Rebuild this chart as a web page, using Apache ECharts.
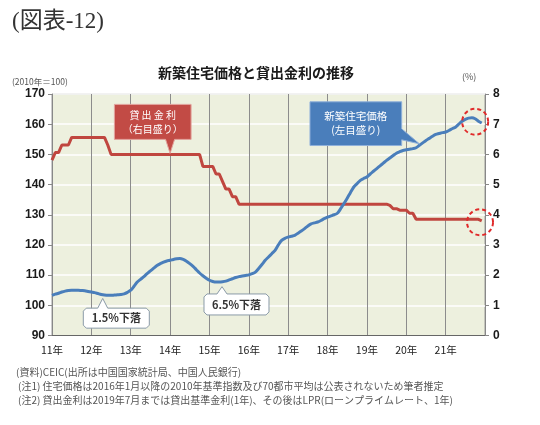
<!DOCTYPE html>
<html><head><meta charset="utf-8">
<script src="https://cdn.jsdelivr.net/npm/echarts@6/dist/echarts.min.js"></script>
<style>html,body{margin:0;padding:0;background:#fff}#c{width:540px;height:425px}</style>
</head><body><div id="c"></div>
<script>
// Year tick labels (one per January)
const yearLabels = ['11年','12年','13年','14年','15年','16年','17年','18年','19年','20年','21年'];
const years = [2011,2012,2013,2014,2015,2016,2017,2018,2019,2020,2021];

// 新築住宅価格 (2010年=100), monthly Jan 2011 - Dec 2021
const housingPrice = [
  103.3,103.7,104.0,104.4,104.7,104.9,105.0,105.0,105.0,104.9,104.8,104.6,
  104.4,104.2,103.9,103.6,103.4,103.3,103.3,103.4,103.5,103.6,103.8,104.3,
  105.0,106.3,107.7,108.6,109.5,110.5,111.4,112.3,113.2,113.8,114.3,114.7,
  114.9,115.2,115.4,115.5,115.2,114.6,113.8,112.9,111.8,110.7,109.8,109.0,
  108.3,107.9,107.7,107.7,107.8,108.0,108.4,108.8,109.2,109.5,109.7,109.9,
  110.1,110.5,111.0,112.2,113.5,114.9,116.0,117.1,118.2,120.0,121.5,122.2,
  122.6,122.9,123.2,123.9,124.6,125.4,126.3,127.0,127.3,127.6,128.1,128.7,
  129.2,129.6,130.0,130.5,132.0,133.7,135.5,137.4,139.2,140.3,141.4,142.0,
  142.5,143.5,144.4,145.3,146.2,147.1,148.0,148.8,149.6,150.4,150.9,151.3,
  151.5,151.7,151.9,152.2,153.0,153.8,154.6,155.3,156.0,156.6,156.9,157.2,
  157.4,157.9,158.5,159.0,160.0,161.0,161.6,162.0,162.1,161.8,161.0,160.4
];

// 貸出金利 (%), monthly Jan 2011 - Dec 2021
const lendingRate = [
  5.81,6.06,6.06,6.31,6.31,6.31,6.56,6.56,6.56,6.56,6.56,6.56,
  6.56,6.56,6.56,6.56,6.56,6.31,6.00,6.00,6.00,6.00,6.00,6.00,
  6.00,6.00,6.00,6.00,6.00,6.00,6.00,6.00,6.00,6.00,6.00,6.00,
  6.00,6.00,6.00,6.00,6.00,6.00,6.00,6.00,6.00,6.00,5.60,5.60,
  5.60,5.60,5.35,5.35,5.10,4.85,4.85,4.60,4.60,4.35,4.35,4.35,
  4.35,4.35,4.35,4.35,4.35,4.35,4.35,4.35,4.35,4.35,4.35,4.35,
  4.35,4.35,4.35,4.35,4.35,4.35,4.35,4.35,4.35,4.35,4.35,4.35,
  4.35,4.35,4.35,4.35,4.35,4.35,4.35,4.35,4.35,4.35,4.35,4.35,
  4.35,4.35,4.35,4.35,4.35,4.35,4.35,4.31,4.20,4.20,4.15,4.15,
  4.15,4.05,4.05,3.85,3.85,3.85,3.85,3.85,3.85,3.85,3.85,3.85,
  3.85,3.85,3.85,3.85,3.85,3.85,3.85,3.85,3.85,3.85,3.85,3.80
];

const notes = [
  '(資料)CEIC(出所は中国国家統計局、中国人民銀行)',
  '(注1) 住宅価格は2016年1月以降の2010年基準指数及び70都市平均は公表されないため筆者推定',
  '(注2) 貸出金利は2019年7月までは貸出基準金利(1年)、その後はLPR(ローンプライムレート、1年)'
];

const FONT = "'Liberation Sans','Noto Sans CJK JP',sans-serif";
const CJK = "'Noto Sans CJK JP','Liberation Sans',sans-serif";

const chart = echarts.init(document.getElementById('c'), null, {renderer: 'canvas'});
const housingPts = housingPrice.map((v, i) => [i, v]);
const ratePts = lendingRate.map((v, i) => [i, v]);

chart.setOption({
  animation: false,
  textStyle: {fontFamily: FONT},
  grid: {left: 52, right: 55, top: 94, bottom: 89.5, show: true,
         backgroundColor: '#edf0de', borderColor: '#9a9a9a', borderWidth: 1},
  xAxis: {
    type: 'value', min: 0, max: years.length * 12, interval: 12,
    axisLine: {show: true, lineStyle: {color: '#666', width: 1}},
    axisTick: {show: false},
    axisLabel: {formatter: v => yearLabels[v / 12] || '', fontSize: 10.5, color: '#222',
                margin: 9, fontFamily: CJK, showMaxLabel: false},
    splitLine: {show: true, lineStyle: {color: '#8c8c8c', width: 1}}
  },
  yAxis: [
    {type: 'value', min: 90, max: 170, interval: 10, position: 'left',
     axisLine: {show: true, lineStyle: {color: '#888'}},
     axisTick: {show: true, length: 4, lineStyle: {color: '#888'}},
     axisLabel: {fontSize: 12, color: '#1a1a1a', fontWeight: 'bold', margin: 7},
     splitLine: {show: true, lineStyle: {color: '#ffffff', width: 1.5}}},
    {type: 'value', min: 0, max: 8, interval: 1, position: 'right',
     axisLine: {show: true, lineStyle: {color: '#888'}},
     axisTick: {show: true, length: 4, lineStyle: {color: '#888'}},
     axisLabel: {fontSize: 12, color: '#1a1a1a', fontWeight: 'bold', margin: 8},
     splitLine: {show: false}}
  ],
  series: [
    {name: '新築住宅価格', type: 'line', yAxisIndex: 0, data: housingPts, showSymbol: false,
     smooth: 0.3, lineStyle: {color: '#4a7ebb', width: 3}, z: 3},
    {name: '貸出金利', type: 'line', yAxisIndex: 1, data: ratePts, showSymbol: false,
     lineStyle: {color: '#c0463f', width: 3}, z: 2}
  ]
});

function px(axis, i, v) {
  return chart.convertToPixel({xAxisIndex: 0, yAxisIndex: axis}, [i, v]);
}

const g = [];
// Header texts
g.push({type: 'text', x: 12, y: 22, style: {text: '(図表-12)', fontSize: 23,
  fontFamily: "'Liberation Serif','DejaVu Serif','Noto Sans CJK JP',serif", fill: '#333',
  textVerticalAlign: 'middle'}});
g.push({type: 'text', x: 256, y: 73, style: {text: '新築住宅価格と貸出金利の推移', fontSize: 14,
  fontFamily: CJK, fontWeight: 'bold', fill: '#1a1a1a', textAlign: 'center', textVerticalAlign: 'middle'}});
g.push({type: 'text', x: 12, y: 82, style: {text: '(2010年＝100)', fontSize: 8.5, fontFamily: CJK,
  fill: '#555', textVerticalAlign: 'middle'}});
g.push({type: 'text', x: 462, y: 77, style: {text: '(%)', fontSize: 9, fontFamily: CJK,
  fill: '#555', textVerticalAlign: 'middle'}});
// Footnotes
const noteY = [372, 386, 400];
notes.forEach((t, k) => g.push({type: 'text', x: k === 0 ? 16 : 18, y: noteY[k],
  style: {text: t, fontSize: 10, fontFamily: CJK, fill: '#555', textVerticalAlign: 'middle'}}));

// Red callout (貸出金利), pointing at Jan 2014
{
  const t = px(1, 36, lendingRate[36]);
  const L = t[0] - 55.7, R = t[0] + 21, T = t[1] - 50, B = t[1] - 15;
  g.push({type: 'polygon', shape: {points: [[L, T], [R, T], [R, B], [t[0] + 4.5, B], [t[0], t[1] - 1], [t[0] - 4.5, B], [L, B]]},
    style: {fill: '#c24b45', stroke: '#e3a49e', lineWidth: 1}, z: 10});
  const cx = (L + R) / 2;
  g.push({type: 'text', x: cx, y: T + 10.5, z: 11, style: {text: '貸 出 金 利', fontSize: 10, fontFamily: CJK,
    fill: '#fff', textAlign: 'center', textVerticalAlign: 'middle'}});
  g.push({type: 'text', x: cx, y: T + 24.5, z: 11, style: {text: '（右目盛り）', fontSize: 10, fontFamily: CJK,
    fill: '#fff', textAlign: 'center', textVerticalAlign: 'middle'}});
}
// Blue callout (新築住宅価格), pointing at May 2020
{
  const a = px(0, 112, housingPrice[112]);
  const t = [a[0], a[1] - 1.5];
  const L = t[0] - 109.4, R = t[0] - 17.7, T = t[1] - 42, B = t[1] + 1.7;
  g.push({type: 'polygon', shape: {points: [[L, T], [R, T], [R, t[1] - 15], [t[0], t[1]], [R, t[1] - 4], [R, B], [L, B]]},
    style: {fill: '#4a7ebb', stroke: '#8fb0da', lineWidth: 1}, z: 10});
  const cx = (L + R) / 2;
  g.push({type: 'text', x: cx, y: T + 14, z: 11, style: {text: '新築住宅価格', fontSize: 10.5, fontFamily: CJK,
    fill: '#fff', textAlign: 'center', textVerticalAlign: 'middle'}});
  g.push({type: 'text', x: cx, y: T + 28.5, z: 11, style: {text: '(左目盛り)', fontSize: 10.5, fontFamily: CJK,
    fill: '#fff', textAlign: 'center', textVerticalAlign: 'middle'}});
}
// White callouts
function whiteCallout(tip, dl, dr, dt, db, label) {
  const L = tip[0] + dl, R = tip[0] + dr, T = tip[1] + dt, B = tip[1] + db, c = 3;
  g.push({type: 'polygon', shape: {points: [
      [L + c, T], [tip[0] - 5, T], [tip[0], tip[1]], [tip[0] + 5, T], [R - c, T], [R, T + c],
      [R, B - c], [R - c, B], [L + c, B], [L, B - c], [L, T + c]]},
    style: {fill: '#ffffff', stroke: '#8a9aa8', lineWidth: 1}, z: 10});
  g.push({type: 'text', x: (L + R) / 2, y: (T + B) / 2, z: 11, style: {text: label, fontSize: 11,
    fontFamily: CJK, fontWeight: 'bold', fill: '#333', textAlign: 'center', textVerticalAlign: 'middle'}});
}
{
  const a = px(0, 15, housingPrice[15]);
  whiteCallout([a[0] + 1.5, a[1] + 4], -19.4, 46.6, 9.7, 29.7, '1.5%下落');
}
{
  const a = px(0, 51, housingPrice[51]);
  whiteCallout([a[0] + 2.7, a[1] + 4.6], -18, 47, 7.3, 28.3, '6.5%下落');
}
// Dashed red circles
{
  const a = px(0, 129, housingPrice[129]);
  g.push({type: 'circle', shape: {cx: a[0], cy: a[1] + 3, r: 13}, z: 12,
    style: {fill: 'none', stroke: '#e02a2a', lineWidth: 2, lineDash: [4, 3]}});
  const b = px(1, 130, lendingRate[130]);
  g.push({type: 'circle', shape: {cx: b[0] + 1.6, cy: b[1] + 3, r: 13}, z: 12,
    style: {fill: 'none', stroke: '#e02a2a', lineWidth: 2, lineDash: [4, 3]}});
}
chart.setOption({graphic: g});
</script>
</body></html>
